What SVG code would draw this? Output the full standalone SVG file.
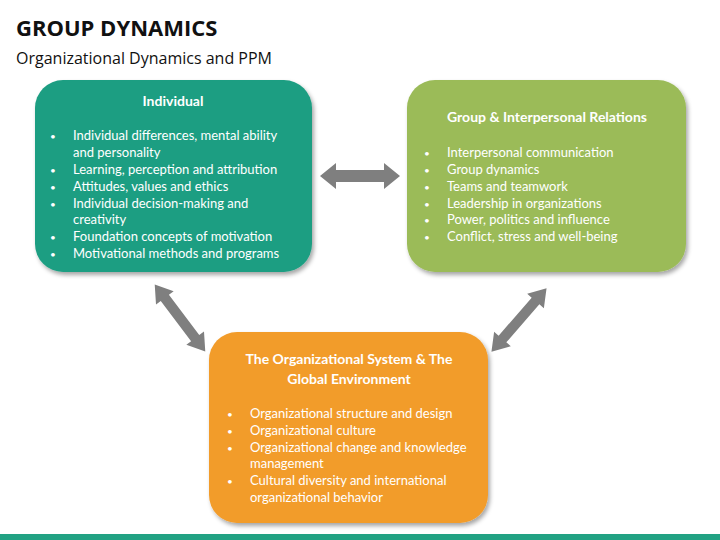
<svg xmlns="http://www.w3.org/2000/svg" width="720" height="540" viewBox="0 0 720 540">
<style>
text{font-family:Lato,"Open Sans",sans-serif;fill:#fff}
.h{font-weight:bold;font-size:14px;text-anchor:middle}
.t{font-size:13px}
.b{font-size:10px}
.arr{fill:#7f7f7f}
</style>
<defs>
<filter id="sh" x="-10%" y="-10%" width="125%" height="125%"><feDropShadow dx="2" dy="3" stdDeviation="2" flood-color="#000" flood-opacity="0.35"/></filter>
<polygon id="da" points="-40,0 -24,-13 -24,-6 24,-6 24,-13 40,0 24,13 24,6 -24,6 -24,13"/>
</defs>
<rect width="720" height="540" fill="#fff"/>
<text x="16" y="36" style="font-family:'Open Sans',sans-serif;font-weight:bold;font-size:22px;fill:#111">GROUP DYNAMICS</text>
<text x="16" y="64" style="font-family:'Open Sans',sans-serif;font-size:16px;fill:#111">Organizational Dynamics and PPM</text>
<rect x="0" y="534" width="720" height="6" fill="#21A283"/>
<g id="connectors" class="arr">
<use href="#da" transform="translate(360,176)"/>
<use href="#da" transform="translate(180,318) rotate(53) scale(1.05,0.85)"/>
<use href="#da" transform="translate(519,320) rotate(-49) scale(1.05,0.85)"/>
</g>
<g id="individual">
<rect x="35" y="80" width="277" height="192" rx="28" fill="#1E9E82" filter="url(#sh)"/>
<text class="h" x="173" y="106">Individual</text>
<g class="t">
<text class="b" x="50" y="140">•</text><text x="73" y="140">Individual differences, mental ability</text>
<text x="73" y="157">and personality</text>
<text class="b" x="50" y="174">•</text><text x="73" y="174">Learning, perception and attribution</text>
<text class="b" x="50" y="191">•</text><text x="73" y="191">Attitudes, values and ethics</text>
<text class="b" x="50" y="208">•</text><text x="73" y="208">Individual decision-making and</text>
<text x="73" y="224">creativity</text>
<text class="b" x="50" y="241">•</text><text x="73" y="241">Foundation concepts of motivation</text>
<text class="b" x="50" y="258">•</text><text x="73" y="258">Motivational methods and programs</text>
</g>
</g>
<g id="group">
<rect x="407" y="80" width="279" height="192" rx="28" fill="#9BBB59" filter="url(#sh)"/>
<text class="h" x="547" y="122">Group &amp; Interpersonal Relations</text>
<g class="t">
<text class="b" x="424" y="157">•</text><text x="447" y="157">Interpersonal communication</text>
<text class="b" x="424" y="174">•</text><text x="447" y="174">Group dynamics</text>
<text class="b" x="424" y="191">•</text><text x="447" y="191">Teams and teamwork</text>
<text class="b" x="424" y="208">•</text><text x="447" y="208">Leadership in organizations</text>
<text class="b" x="424" y="224">•</text><text x="447" y="224">Power, politics and influence</text>
<text class="b" x="424" y="241">•</text><text x="447" y="241">Conflict, stress and well-being</text>
</g>
</g>
<g id="organizational">
<rect x="209" y="332" width="279" height="191" rx="28" fill="#F29C2A" filter="url(#sh)"/>
<text class="h" x="349" y="364">The Organizational System &amp; The</text>
<text class="h" x="349" y="384">Global Environment</text>
<g class="t">
<text class="b" x="227" y="418">•</text><text x="250" y="418">Organizational structure and design</text>
<text class="b" x="227" y="435">•</text><text x="250" y="435">Organizational culture</text>
<text class="b" x="227" y="452">•</text><text x="250" y="452">Organizational change and knowledge</text>
<text x="250" y="468">management</text>
<text class="b" x="227" y="485">•</text><text x="250" y="485">Cultural diversity and international</text>
<text x="250" y="502">organizational behavior</text>
</g>
</g>
</svg>
